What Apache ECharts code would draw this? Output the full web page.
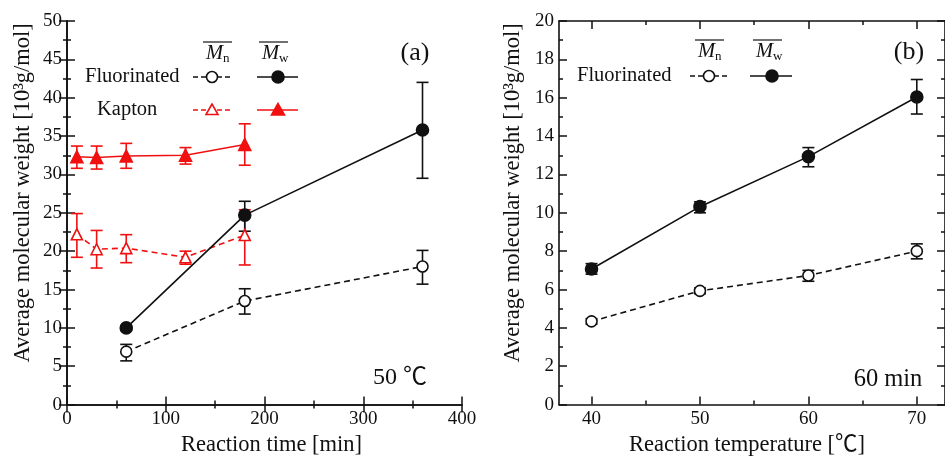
<!DOCTYPE html>
<html><head><meta charset="utf-8">
<script src="https://cdn.jsdelivr.net/npm/echarts@6/dist/echarts.min.js"></script>
<style>html,body{margin:0;padding:0;background:#fff}#c{width:945px;height:461px}</style>
</head><body><div id="c"></div>
<script>
const FONT = '"Liberation Serif", "Noto Sans CJK JP", serif';
const BLACK = '#111111';
const RED = '#f01010';

// ---- Panel (a): reaction time [min], 50 ℃ ----
const timeFluor   = [60, 180, 360];
const fluorMwA    = [10.0, 24.7, 35.8];
const fluorMwA_lo = [9.8, 22.6, 29.5];
const fluorMwA_hi = [10.2, 26.5, 42.0];
const fluorMnA    = [6.9, 13.5, 18.0];
const fluorMnA_lo = [5.7, 11.8, 15.7];
const fluorMnA_hi = [7.85, 15.1, 20.1];

const timeKapton  = [10, 30, 60, 120, 180];
const kaptonMw    = [32.3, 32.2, 32.4, 32.5, 33.9];
const kaptonMw_lo = [30.8, 30.7, 30.8, 31.35, 31.2];
const kaptonMw_hi = [33.7, 33.7, 34.05, 33.5, 36.6];
const kaptonMn    = [22.2, 20.25, 20.4, 19.2, 22.1];
const kaptonMn_lo = [19.2, 17.8, 18.5, 18.3, 18.2];
const kaptonMn_hi = [24.9, 22.7, 22.15, 20.0, 25.4];

// ---- Panel (b): reaction temperature [℃], 60 min ----
const tempB       = [40, 50, 60, 70];
const fluorMwB    = [7.07, 10.32, 12.93, 16.04];
const fluorMwB_lo = [6.8, 10.0, 12.4, 15.15];
const fluorMwB_hi = [7.35, 10.57, 13.4, 16.95];
const fluorMnB    = [4.34, 5.93, 6.73, 8.0];
const fluorMnB_lo = [4.2, 5.78, 6.43, 7.6];
const fluorMnB_hi = [4.48, 6.08, 7.0, 8.38];

const xTicksB      = [40, 50, 60, 70];
const xMinorTicksB = [45, 55, 65];

const zip = (xs, ys) => xs.map((x, i) => [x, ys[i]]);
const zipErr = (xs, lo, hi) => xs.map((x, i) => [x, lo[i], hi[i]]);

function errSeries(xi, yi, data, color) {
  return {
    type: 'custom', xAxisIndex: xi, yAxisIndex: yi, z: 2, silent: true,
    data: data, encode: { x: 0, y: [1, 2] },
    renderItem: function (params, api) {
      const x = api.value(0), lo = api.value(1), hi = api.value(2);
      const a = api.coord([x, lo]), b = api.coord([x, hi]);
      const w = 6;
      const st = { stroke: color, lineWidth: 1.6 };
      return { type: 'group', children: [
        { type: 'line', shape: { x1: a[0], y1: a[1], x2: b[0], y2: b[1] }, style: st },
        { type: 'line', shape: { x1: a[0] - w, y1: a[1], x2: a[0] + w, y2: a[1] }, style: st },
        { type: 'line', shape: { x1: b[0] - w, y1: b[1], x2: b[0] + w, y2: b[1] }, style: st }
      ]};
    }
  };
}

function lineSeries(xi, yi, data, color, dashed, symbol, size, filled) {
  return {
    type: 'line', xAxisIndex: xi, yAxisIndex: yi, z: 3, data: data,
    symbol: symbol, symbolSize: size, showSymbol: true,
    lineStyle: { color: color, width: 1.6, type: dashed ? [6, 4] : 'solid' },
    itemStyle: { color: filled ? color : '#ffffff', borderColor: color, borderWidth: 1.6, opacity: 1 },
    animation: false
  };
}

const tickStyle = { color: BLACK, width: 1.5 };
const lineStyleAx = { color: BLACK, width: 1.6 };
const labelStyle = { fontFamily: FONT, fontSize: 19, color: BLACK, margin: 5 };
const nameStyle = { fontFamily: FONT, fontSize: 22.5, color: BLACK };

function baseAxis(extra) {
  return Object.assign({
    type: 'value', splitLine: { show: false },
    axisLine: { show: true, lineStyle: lineStyleAx },
    axisTick: { show: true, inside: true, length: 8, lineStyle: tickStyle },
    minorTick: { show: true, splitNumber: 2, length: 4, lineStyle: tickStyle },
    axisLabel: labelStyle
  }, extra);
}

const XMAX_B = 72.6;
const option = {
  animation: false,
  backgroundColor: '#ffffff',
  grid: [
    { left: 67, top: 21, width: 395, height: 395 },
    { left: 559, top: 21, width: 388, height: 396 }
  ],
  xAxis: [
    baseAxis({ gridIndex: 0, position: 'bottom', min: 0, max: 400, interval: 100,
      name: 'Reaction time [min]', nameLocation: 'middle', nameGap: 23, nameTextStyle: Object.assign({ padding: [0, 0, 0, 14] }, nameStyle) }),
    baseAxis({ gridIndex: 0, position: 'top', min: 0, max: 400, interval: 100, axisLabel: { show: false } }),
    baseAxis({ gridIndex: 1, position: 'bottom', min: 37, max: XMAX_B,
      axisTick: { show: true, inside: true, length: 8, lineStyle: tickStyle, customValues: xTicksB },
      axisLabel: Object.assign({ customValues: xTicksB }, labelStyle), minorTick: { show: false },
      name: 'Reaction temperature [℃]', nameLocation: 'middle', nameGap: 23,
      nameTextStyle: Object.assign({ padding: [0, 10, 0, 0] }, nameStyle) }),
    baseAxis({ gridIndex: 1, position: 'bottom', min: 37, max: XMAX_B, axisLine: { show: false },
      axisTick: { show: true, inside: true, length: 4, lineStyle: tickStyle, customValues: xMinorTicksB },
      axisLabel: { show: false }, minorTick: { show: false } }),
    baseAxis({ gridIndex: 1, position: 'top', min: 37, max: XMAX_B,
      axisTick: { show: true, inside: true, length: 8, lineStyle: tickStyle, customValues: xTicksB },
      axisLabel: { show: false }, minorTick: { show: false } }),
    baseAxis({ gridIndex: 1, position: 'top', min: 37, max: XMAX_B, axisLine: { show: false },
      axisTick: { show: true, inside: true, length: 4, lineStyle: tickStyle, customValues: xMinorTicksB },
      axisLabel: { show: false }, minorTick: { show: false } })
  ],
  yAxis: [
    baseAxis({ gridIndex: 0, position: 'left', min: 0, max: 50, interval: 5,
      name: 'Average molecular weight [10³g/mol]', nameLocation: 'middle', nameGap: 33,
      nameTextStyle: Object.assign({ padding: [0, 0, 0, 40] }, nameStyle) }),
    baseAxis({ gridIndex: 0, position: 'right', min: 0, max: 50, interval: 5, axisLabel: { show: false } }),
    baseAxis({ gridIndex: 1, position: 'left', min: 0, max: 20, interval: 2,
      name: 'Average molecular weight [10³g/mol]', nameLocation: 'middle', nameGap: 35,
      nameTextStyle: Object.assign({ padding: [0, 0, 0, 40] }, nameStyle) }),
    baseAxis({ gridIndex: 1, position: 'right', min: 0, max: 20, interval: 2, axisLabel: { show: false } })
  ],
  series: [
    errSeries(0, 0, zipErr(timeKapton, kaptonMw_lo, kaptonMw_hi), RED),
    errSeries(0, 0, zipErr(timeKapton, kaptonMn_lo, kaptonMn_hi), RED),
    errSeries(0, 0, zipErr(timeFluor, fluorMwA_lo, fluorMwA_hi), BLACK),
    errSeries(0, 0, zipErr(timeFluor, fluorMnA_lo, fluorMnA_hi), BLACK),
    lineSeries(0, 0, zip(timeKapton, kaptonMw), RED, false, 'triangle', 12, true),
    lineSeries(0, 0, zip(timeKapton, kaptonMn), RED, true, 'triangle', 11, false),
    lineSeries(0, 0, zip(timeFluor, fluorMwA), BLACK, false, 'circle', 12, true),
    lineSeries(0, 0, zip(timeFluor, fluorMnA), BLACK, true, 'circle', 11, false),
    errSeries(2, 2, zipErr(tempB, fluorMwB_lo, fluorMwB_hi), BLACK),
    errSeries(2, 2, zipErr(tempB, fluorMnB_lo, fluorMnB_hi), BLACK),
    lineSeries(2, 2, zip(tempB, fluorMwB), BLACK, false, 'circle', 12, true),
    lineSeries(2, 2, zip(tempB, fluorMnB), BLACK, true, 'circle', 11, false)
  ],
  graphic: []
};

// ---- legend keys and annotations (graphic) ----
const G = option.graphic;
function txt(x, y, s, size, align, italic) {
  G.push({ type: 'text', x: x, y: y, silent: true, style: {
    text: s, font: (italic ? 'italic ' : '') + size + 'px ' + FONT, fill: BLACK,
    align: align || 'left', verticalAlign: 'middle' } });
}
function hline(x1, x2, y, color, dashed, w) {
  G.push({ type: 'line', silent: true, shape: { x1: x1, y1: y, x2: x2, y2: y },
    style: { stroke: color, lineWidth: w || 1.6, lineDash: dashed ? [5, 3] : null } });
}
function circ(cx, cy, r, color, filled) {
  G.push({ type: 'circle', silent: true, z: 10, shape: { cx: cx, cy: cy, r: r },
    style: { fill: filled ? color : '#ffffff', stroke: color, lineWidth: 1.6 } });
}
function tri(cx, cy, s, color, filled) {
  G.push({ type: 'polygon', silent: true, z: 10, shape: { points: [[cx, cy - s], [cx - s, cy + s * 0.75], [cx + s, cy + s * 0.75]] },
    style: { fill: filled ? color : '#ffffff', stroke: color, lineWidth: 1.6 } });
}
function mbar(cx, y, sub) {
  hline(cx - 15, cx + 14, y, BLACK, false, 1.2);
  txt(cx - 12, y + 12, 'M', 20.5, 'left', true);
  txt(cx + 5, y + 17, sub, 13, 'left', false);
}
// Panel (a) legend
mbar(218, 42, 'n');
mbar(274, 42, 'w');
txt(85, 77, 'Fluorinated', 20.5);
hline(193, 233, 77, BLACK, true); circ(212, 77, 5.5, BLACK, false);
hline(257, 298, 77, BLACK, false); circ(278, 77, 6, BLACK, true);
txt(97, 110, 'Kapton', 20.5);
hline(193, 233, 110, RED, true); tri(212, 110, 6, RED, false);
hline(257, 298, 110, RED, false); tri(278, 110, 6.5, RED, true);
txt(415, 53, '(a)', 26, 'center');
txt(400, 378, '50 ℃', 24, 'center');
// Panel (b) legend
mbar(710, 40, 'n');
mbar(768, 40, 'w');
txt(577, 76, 'Fluorinated', 20.5);
hline(690, 730, 76, BLACK, true); circ(709, 76, 5.5, BLACK, false);
hline(750, 792, 76, BLACK, false); circ(772, 76, 6, BLACK, true);
txt(909, 52, '(b)', 26, 'center');
txt(888, 380, '60 min', 24.5, 'center');

const chart = echarts.init(document.getElementById('c'), null, { renderer: 'canvas' });
chart.setOption(option);
</script></body></html>
